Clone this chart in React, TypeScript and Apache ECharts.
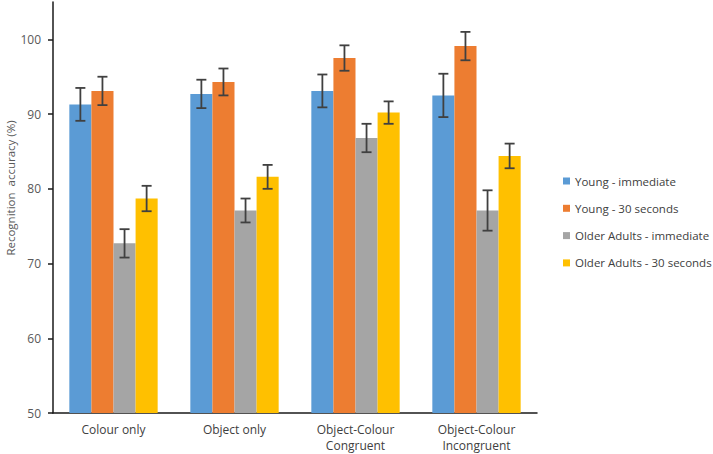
import React, { useEffect, useRef } from "react";
import * as echarts from "echarts";

const categories = ["Colour only", "Object only", "Object-Colour\nCongruent", "Object-Colour\nIncongruent"];
const seriesNames = ["Young - immediate", "Young - 30 seconds", "Older Adults - immediate", "Older Adults - 30 seconds"];
const colors = ["#5B9BD5", "#ED7D31", "#A5A5A5", "#FFC000"];
const youngImmediate = [91.3, 92.7, 93.1, 92.5];
const young30 = [93.1, 94.3, 97.5, 99.1];
const olderImmediate = [72.7, 77.1, 86.8, 77.1];
const older30 = [78.7, 81.6, 90.2, 84.4];
const youngImmediateErr = [2.2, 1.9, 2.2, 2.9];
const young30Err = [1.9, 1.8, 1.7, 1.9];
const olderImmediateErr = [1.9, 1.6, 1.9, 2.7];
const older30Err = [1.7, 1.6, 1.5, 1.65];
const yTicks = [50, 60, 70, 80, 90, 100];

const FONT = "'Open Sans', sans-serif";
const CAT_GAP = 0.27;

export default function App() {
  const ref = useRef<HTMLDivElement>(null);
  useEffect(() => {
    document.body.style.margin = "0";
    const chart = echarts.init(ref.current!, undefined, { renderer: "svg" });
    const means = [youngImmediate, young30, olderImmediate, older30];
    const errs = [youngImmediateErr, young30Err, olderImmediateErr, older30Err];
    const errData: number[][] = [];
    means.forEach((arr, s) => {
      arr.forEach((v, c) => {
        errData.push([c, s, v - errs[s][c], v + errs[s][c]]);
      });
    });
    chart.setOption({
      animation: false,
      grid: { left: 53, right: 176, top: 2, bottom: 41, outerBoundsMode: "none", containLabel: false },
      legend: {
        orient: "vertical",
        left: 563,
        top: 173.5,
        padding: 0,
        itemWidth: 7,
        itemHeight: 7,
        itemGap: 12.3,
        icon: "rect",
        data: seriesNames,
        textStyle: { color: "#404040", fontSize: 11.5, fontFamily: FONT, lineHeight: 15 },
      },
      graphic: [
        {
          type: "text",
          x: 10,
          y: 188,
          rotation: Math.PI / 2,
          style: {
            text: "Recognition  accuracy (%)",
            fill: "#595959",
            fontSize: 11.5,
            fontFamily: FONT,
            align: "center",
            verticalAlign: "middle",
          },
        },
      ],
      xAxis: {
        type: "category",
        data: categories,
        axisTick: { show: false },
        axisLine: { lineStyle: { color: "#1a1a1a", width: 1.5 } },
        axisLabel: { color: "#404040", fontSize: 12, fontFamily: FONT, margin: 8, lineHeight: 16 },
      },
      yAxis: {
        type: "value",
        min: 50,
        max: 105,
        interval: 10,
        splitLine: { show: false },
        axisLine: { show: true, lineStyle: { color: "#1a1a1a", width: 1.5 } },
        axisTick: { show: true, length: 5, customValues: yTicks, lineStyle: { color: "#1a1a1a", width: 1.5 } },
        axisLabel: { color: "#595959", fontSize: 12, fontFamily: FONT, margin: 12, customValues: yTicks },
      },
      series: [
        ...seriesNames.map((name, i) => ({
          name,
          type: "bar",
          data: means[i],
          barGap: "0%",
          barCategoryGap: CAT_GAP * 100 + "%",
          itemStyle: { color: colors[i] },
        })),
        {
          type: "custom",
          data: errData,
          z: 10,
          renderItem: (params: any, api: any) => {
            const c = api.value(0);
            const s = api.value(1);
            const lo = api.value(2);
            const hi = api.value(3);
            const band = api.size([1, 0])[0];
            const bw = (band * (1 - CAT_GAP)) / 4;
            const p1 = api.coord([c, lo]);
            const p2 = api.coord([c, hi]);
            const x = p1[0] + (s - 1.5) * bw;
            const cap = 5;
            const style = { stroke: "#404040", lineWidth: 1.8 };
            return {
              type: "group",
              children: [
                { type: "line", shape: { x1: x, y1: p1[1], x2: x, y2: p2[1] }, style },
                { type: "line", shape: { x1: x - cap, y1: p1[1], x2: x + cap, y2: p1[1] }, style },
                { type: "line", shape: { x1: x - cap, y1: p2[1], x2: x + cap, y2: p2[1] }, style },
              ],
            };
          },
        },
      ],
    });
    return () => chart.dispose();
  }, []);
  return <div ref={ref} style={{ width: 713, height: 454 }} />;
}
